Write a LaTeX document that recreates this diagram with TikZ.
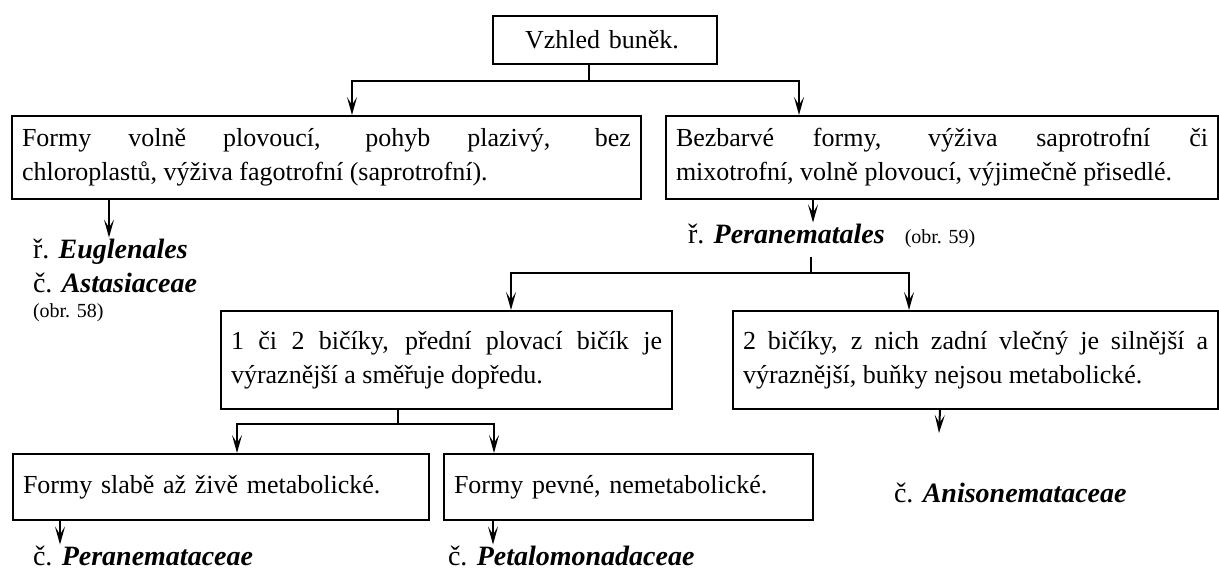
\documentclass[tikz,border=0pt]{standalone}
\usepackage{fontspec}
\setmainfont{Liberation Serif}
\usetikzlibrary{arrows.meta,positioning}

\begin{document}
\begin{tikzpicture}[
    x = 0.5pt, y = -0.5pt, % one unit = one pixel of the page
    > = {Stealth[length=9pt,width=5pt,inset=4pt]}, % arrow head style
    line width = 1pt,
    box/.style = {draw, anchor=north west, inner xsep=5pt, inner ysep=4pt,
        align=justify, font=\fontsize{13}{17}\selectfont},
    taxon/.style = {anchor=base west, inner sep=0pt, font=\fontsize{14}{17}\selectfont},
    note/.style = {anchor=base west, inner sep=0pt, font=\fontsize{10}{12}\selectfont}
    ]
    \useasboundingbox (0,0) rectangle (1219,572);

    % boxes
    \node[box, align=left, inner xsep=16pt, text width=80pt, minimum height=24pt] (vzhled) at (492,15) {Vzhled buněk.};
    \node[box, text width=304.5pt, minimum height=41.5pt] (volne) at (11,115)
        {Formy volně plovoucí, pohyb plazivý, bez\linebreak chloroplastů, výživa fagotrofní (saprotrofní).};
    \node[box, text width=266pt, minimum height=41.5pt] (bezbarve) at (665,115)
        {Bezbarvé formy, výživa saprotrofní či\linebreak mixotrofní, volně plovoucí, výjimečně přisedlé.};
    \node[box, text width=215.5pt, minimum height=49pt] (dopredu) at (220,310)
        {1 či 2 bičíky, přední plovací bičík je\linebreak výraznější a směřuje dopředu.\par\vspace{15pt}};
    \node[box, text width=232.5pt, minimum height=49pt] (vlecny) at (732,310)
        {2 bičíky, z nich zadní vlečný je silnější a\linebreak výraznější, buňky nejsou metabolické.\par\vspace{15pt}};
    \node[box, align=left, text width=198pt, minimum height=33pt] (slabe) at (12,453) {Formy slabě až živě metabolické.};
    \node[box, align=left, text width=174.5pt, minimum height=33pt] (pevne) at (443,453) {Formy pevné, nemetabolické.};

    % taxa
    \node[taxon] (euglenales) at (32,258) {ř. \textbf{\textit{Euglenales}}};
    \node[taxon] (astasiaceae) at (32,292) {č. \textbf{\textit{Astasiaceae}}};
    \node[note] (obr58) at (32,317) {(obr. 58)};
    \node[taxon] (peranematales) at (687,243) {ř. \textbf{\textit{Peranematales}}};
    \node[note, right=9pt of peranematales.base east, anchor=base west] (obr59) {(obr. 59)};
    \node[taxon] (anisonemataceae) at (893,502) {č. \textbf{\textit{Anisonemataceae}}};
    \node[taxon] (peranemataceae) at (32,565) {č. \textbf{\textit{Peranemataceae}}};
    \node[taxon] (petalomonadaceae) at (447,565) {č. \textbf{\textit{Petalomonadaceae}}};
    \coordinate (anisotip) at (939,433);

    % connectors
    \draw[->] ([xshift=-8pt]vzhled.south) -- ++(0,16) -| ([xshift=12.75pt]volne.north);
    \draw[->] ([xshift=-8pt]vzhled.south) -- ++(0,16) -| ([xshift=-71.5pt]bezbarve.north);
    \draw[->] ([xshift=-108.75pt]volne.south) -- ([xshift=-108.75pt]volne.south |- euglenales.north);
    \draw[->] ([xshift=-64.5pt]bezbarve.south) -- ([xshift=-64.5pt]bezbarve.south |- peranematales.north);
    \draw[->] ([xshift=12.25pt,yshift=-6.5pt]peranematales.south) -- ++(0,16) -| ([xshift=32.25pt]dopredu.north);
    \draw[->] ([xshift=12.25pt,yshift=-6.5pt]peranematales.south) -- ++(0,16) -| ([xshift=-33.25pt]vlecny.north);
    \draw[->] ([xshift=-24.25pt]dopredu.south) -- ++(0,14) -| ([xshift=8pt]slabe.north);
    \draw[->] ([xshift=-24.25pt]dopredu.south) -- ++(0,14) -| ([xshift=-67.25pt]pevne.north);
    \draw[->] ([xshift=-17.75pt]vlecny.south) -- (anisotip);
    \draw[->] ([xshift=-80.5pt]slabe.south) -- ([xshift=-80.5pt]slabe.south |- peranemataceae.north);
    \draw[->] ([xshift=-67.75pt]pevne.south) -- ([xshift=-67.75pt]pevne.south |- petalomonadaceae.north);
\end{tikzpicture}
\end{document}
